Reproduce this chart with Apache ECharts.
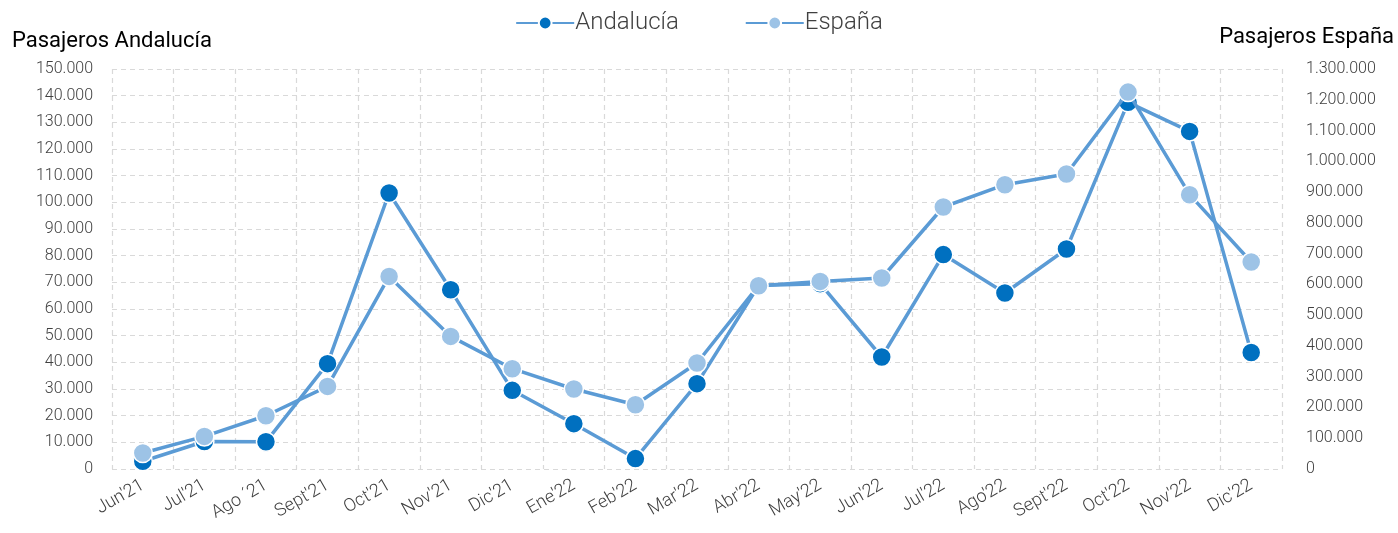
<!DOCTYPE html>
<html>
<head>
<meta charset="utf-8">
<script src="https://cdn.jsdelivr.net/npm/echarts@6/dist/echarts.min.js"></script>
<style>
html,body{margin:0;padding:0;background:#fff;}
#chart{width:1398px;height:533px;}
</style>
</head>
<body>
<div id="chart"></div>
<script>
// meses
var meses = ["Jun'21","Jul'21","Ago \u00b421","Sept'21","Oct'21","Nov'21","Dic'21","Ene'22","Feb'22","Mar'22",
	"Abr'22","May'22","Jun'22","Jul'22","Ago'22","Sept'22","Oct'22","Nov'22","Dic'22"];

// pasajeros (eje izquierdo)
var andalucia = [2900,10300,10200,39500,103500,67200,29500,17000,3900,32000,
	68800,69500,42000,80400,66000,82500,137500,126600,43700];

// pasajeros (eje derecho)
var espana = [52000,106000,173000,268500,626000,431000,326000,260000,209000,344500,
	595700,609700,620700,851500,924000,958700,1225000,891500,672700];

var FONT = 'Roboto';
var LINE_COLOR = '#5B9BD5';

function fmtMiles(v){
	return String(v).replace(/\B(?=(\d{3})+(?!\d))/g,'.');
}

var myChart = echarts.init(document.getElementById('chart'));
myChart.setOption({
	animation:false,
	textStyle:{fontFamily:FONT},
	legend:{
		top:6,
		left:'center',
		itemGap:66,
		itemWidth:58,
		itemHeight:16,
		textStyle:{fontSize:24,fontWeight:300,color:'#404040',fontFamily:FONT,padding:[0,0,0,-4]},
		data:['Andaluc\u00eda','Espa\u00f1a']
	},
	graphic:[
		{type:'text',left:12,top:30,style:{text:'Pasajeros Andaluc\u00eda',font:'400 22px '+FONT,fill:'#000'}},
		{type:'text',right:4,top:26,style:{text:'Pasajeros Espa\u00f1a',font:'400 22px '+FONT,fill:'#000'}}
	],
	grid:{left:112,right:116,top:69,bottom:64},
	xAxis:{
		type:'category',
		data:meses,
		boundaryGap:true,
		axisLine:{show:false},
		axisTick:{show:false},
		axisLabel:{rotate:30,interval:0,fontSize:18,fontWeight:300,color:'#404040',margin:15},
		splitLine:{show:true,lineStyle:{color:'#D9D9D9',type:[5,4],width:1.2}}
	},
	yAxis:[
		{
			type:'value',
			min:0,max:150000,interval:10000,
			axisLine:{show:false},
			axisTick:{show:false},
			axisLabel:{fontSize:16,fontWeight:300,color:'#404040',margin:19,formatter:fmtMiles},
			splitLine:{show:true,lineStyle:{color:'#D9D9D9',type:[5,4],width:1.2}}
		},
		{
			type:'value',
			min:0,max:1300000,interval:100000,
			axisLine:{show:false},
			axisTick:{show:false},
			axisLabel:{fontSize:16,fontWeight:300,color:'#404040',margin:24,formatter:fmtMiles},
			splitLine:{show:false}
		}
	],
	series:[
		{
			name:'Andaluc\u00eda',
			type:'line',
			yAxisIndex:0,
			data:andalucia,
			symbol:'circle',
			symbolSize:19,
			lineStyle:{color:LINE_COLOR,width:3.5},
			itemStyle:{color:'#0070C0',borderColor:'#fff',borderWidth:1.5},
			z:2
		},
		{
			name:'Espa\u00f1a',
			type:'line',
			yAxisIndex:1,
			data:espana,
			symbol:'circle',
			symbolSize:19,
			lineStyle:{color:LINE_COLOR,width:3.5},
			itemStyle:{color:'#9DC3E6',borderColor:'#fff',borderWidth:1.5},
			z:3
		}
	]
});
</script>
</body>
</html>
